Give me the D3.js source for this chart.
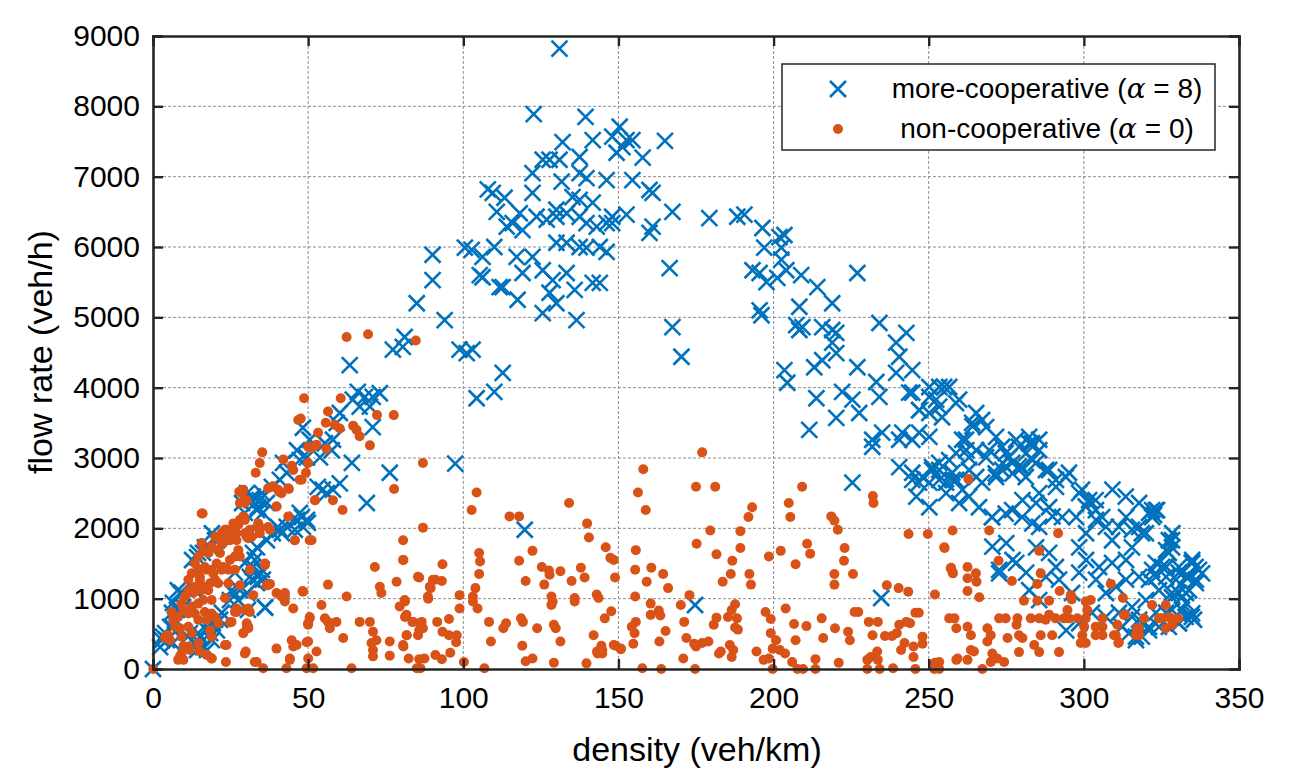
<!DOCTYPE html>
<html>
<head>
<meta charset="utf-8">
<style>
  body { margin: 0; background: #fff; }
  text { font-family: "Liberation Sans", Arial, sans-serif; fill: #000; }
</style>
</head>
<body>
<svg id="plot"></svg>
<script src="https://d3js.org/d3.v7.min.js"></script>
<script>

// density (veh/km), flow rate (veh/h)
var coopPoints = [
  [131,8820],[122.7,7890],[139.4,7850],[150.4,7710],[132,7490],[141.7,7520],[148,7570],[152.6,7520],[154.5,7520],[165,7510],
  [125.6,7240],[127.8,7240],[131,7240],[137.5,7280],[149.4,7340],[151.3,7420],[157.8,7270],
  [122.3,7050],[131.7,6930],[137.5,7050],[139.7,6980],[146.2,6950],[154.5,6950],[160,6810],
  [107.9,6820],[109.5,6770],[113.3,6700],[122.3,6770],[130,6530],[135.2,6710],[137.5,6670],[141.7,6630],[148,6430],[152.6,6460],[161,6770],[167.4,6500],[179.3,6410],[188.3,6430],
  [110.8,6500],[114,6290],[115.9,6340],[118.2,6480],[119.1,6240],[123.6,6430],[126.9,6390],[130,6430],[133.3,6480],[137.5,6430],[139.7,6340],[143,6290],[146.2,6340],[148,6340],[160,6200],[161,6290],
  [90.1,5890],[100.5,5990],[102.7,5960],[106.2,5860],[110,6000],[117.2,5860],[122.3,5860],[130,6060],[133.3,6060],[137.5,6000],[139.7,5990],[144,6000],[146.2,5930],
  [90.1,5530],[105.3,5600],[106.2,5570],[111.7,5430],[112.7,5430],[119.1,5630],[125.6,5670],[128.8,5530],[133.3,5630],[141.7,5490],[144,5490],[166.5,5700],
  [85,5200],[94,4960],[117.5,5250],[125.6,5060],[127.8,5350],[130,5200],[135.9,5390],[136.5,4960],
  [167.4,4860],[170.3,4440],
  [77.3,4540],[81.1,4720],[80.5,4580],[98.8,4540],[101.1,4490],[103,4540],[112.7,4210],[110,3940],[104.3,3850],[73.1,3920],
  [63.4,4320],[66,3940],[68.3,3870],[70.8,3870],[64.4,3830],[66.6,3730],[69.9,3730],[70.8,3440],
  [60.2,3640],[59.2,3500],[58,3260],
  [48.3,3430],[50.5,3260],[46.4,3110],[49.6,3010],[47.3,2970],
  [55.4,3210],[57.6,3110],[53.8,3010],[64.1,2930],[76.3,2790],[68.9,2360],
  [41.9,2930],[43.1,2790],[40.9,2690],
  [60.2,2640],[58,2550],[54.7,2550],[56,2500],
  [30.3,2500],[32.2,2450],[34.4,2400],[36.7,2360],[35.4,2220],[33.5,2260],
  [47.3,2220],[49.6,2120],[46.4,2120],[48.3,2020],
  [40.9,1980],[43.1,2020],[38.6,1930],
  [34.4,1930],[36.7,1830],[33.5,1730],[32.2,1650],
  [20.6,1830],[18.4,1730],[16.1,1650],[14.2,1590],
  [32.2,1450],[34.4,1370],[31.2,1310],[33.5,1220],[35.4,1270],
  [28,1120],[25.8,1080],[24.8,980],[30.3,1080],[36.1,870],
  [8.7,1080],[6.4,940],[7.7,840],[9.7,880],
  [21.6,700],[19.3,650],[17.4,550],[18.4,510],[20.6,550],
  [5.5,600],[3.2,460],[6.4,370],[2.3,310],[4.5,410],
  [11.9,510],[15.1,460],[16.1,310],[14.2,270],[17.4,270],
  [0,0],
  [2.9,410],[3.9,510],[6.1,600],[7.1,700],[6.1,800],[8,880],[9.3,1080],
  [11.3,460],[13.5,370],[14.5,510],[17.7,600],[20,700],[22.2,800],[19,410],
  [12.6,1550],[14.5,1650],[16.7,1730],[20,1830],[19,1930],[13.5,1120],[8,1120],
  [29.6,2220],[31.9,2400],[33.8,2300],[35.1,2500],[38.3,2590],[28.7,2360],
  [48,2160],[49.9,2080],[45.7,1980],[40.2,2020],[41.5,1930],[53.1,2590],
  [25.4,1120],[27.4,980],[30.6,840],[36.1,880],[31.9,1270],[33.8,1310],[26.4,1370],[29.6,1510],[32.8,1550],[35.1,1410],
  [97.4,2920],[119.8,1980],[174.7,910],[234.7,1010],
  [190.6,6460],[196.4,6270],[201.9,6140],[203.5,6170],[197,5990],[202.5,5990],[193.2,5670],[195.5,5630],[197.7,5500],[201.2,5560],[202.5,5820],[204.1,5670],[208.9,5600],[214.1,5430],[218.9,5200],[227,5630],[208.3,5150],[195.5,5100],[196.1,5030],
  [207.3,4890],[208.3,4820],[209.3,4860],[215.7,4860],[218.9,4820],[220.2,4780],[218.9,4640],[220.2,4490],[234.1,4920],[239.5,4640],[242.8,4780],[240.5,4440],[244.7,4250],[239.5,4210],
  [203.5,4250],[204.4,4070],[213.1,4290],[215.7,4390],[213.8,3850],[211.5,3400],[220.2,3570],[222.1,3940],[225.4,3830],[227.6,3640],[227,4290],[233.1,4080],[234.1,3870],[231.8,3260],[231.8,3160],[235,3360],
  [241.5,3360],[240.5,3260],[244.7,3260],[246.9,3360],[250.2,3300],[250.2,4010],[253.4,4010],[256.6,4010],[252.4,3830],[259.8,3830],[244.7,3930],[246.9,3680],
  [225.4,2650],
  [240.5,2870],[244.7,2790],[246.9,2650],[251.1,2870],[253.4,2690],[257.6,2790],
  [255,4010],[250.2,3870],[253.4,3730],[258.8,3780],[254.3,3580],[250.2,3640],[247,3680],[243.7,3930],
  [265.3,3640],[267.2,3540],[264,3500],[268.5,3440],[271.7,3300],[260.8,3260],[262.1,3110],[265.3,3110],[269.5,3110],[273.7,3160],[278.2,3260],[282.4,3300],[283.3,3210],[285.6,3110],[281.4,3070],[275.9,3010],[268.5,3010],[263,3010],
  [253.4,2930],[251.1,2830],[248,2730],[244.7,2690],[250.2,2650],[255.6,2650],[258.8,2690],[263,2830],[265.3,2730],[267.2,2650],[271.7,2730],[273.7,2830],[276.9,2930],[280.1,2870],[284.6,2930],[287.8,2830],[291,2690],[295.2,2790],[299.4,2550],[301.7,2400],[303.9,2260],[305.9,2160],
  [246,2450],[250.2,2300],[255.6,2500],[259.8,2360],[263,2450],[266.2,2300],[270.4,2160],[276.9,2260],[280.1,2160],[284.6,2360],[288.8,2300],[293,2160],[297.5,2160],
  [264.1,3450],[262,3260],[258.8,3070],[256.6,2970],[253.4,2830],[257.7,2690],[260.9,2550],[271.6,2780],[273.8,2930],[274.8,3070],[279.1,3160],[282.4,3210],[285.6,3260],[283.4,2970],[279.1,2880],[277,2780],[281.3,2730],[288.8,2830],[291,2590],[294.2,2730],[285.6,2500],[280.2,2400],[274.8,2210],[298.5,2500],[300.6,2310],[303.8,2400],[309.2,2550],[313.5,2450],[317.8,2360],[323.2,2260],[322,2160],[270.5,1740],[272.7,1360],[277,1550],[283.4,2070],[285.6,2020],[289.9,2170],
  [328.5,1930],[334.9,1550],[338.1,1360],[336,1450],[333.9,1310],[332.8,740],[334.9,790],
  [270.4,2160],[275,1790],[272.7,1410],[278.2,1510],[281.4,1370],[282.4,1120],[285.6,980],[284.6,1730],[288.8,1650],[291,1450],[287.8,1310],[292,1270],[296.2,1080],[298.5,1370],[300.7,1550],[298.5,1730],[300.7,1930],[303.9,2120],[307.1,2020],[309.1,1830],[311.3,2020],[313.6,2160],[317.8,2020],[322,2260],[320,1930],[315.5,1730],[313.6,1550],[309.1,1510],[304.9,1450],[303.9,1270],[307.1,1080],[310.4,1170],[313.6,1270],[317.8,1310],[322,1410],[326.5,1450],[328.4,1830],[327.4,1650],[330.6,1370],[334.8,1510],[336.1,1270],[332.9,1080],[328.4,1080],[324.2,1120],[320,980],[315.5,880],[311.3,800],[307.1,740],[302.6,800],[298.5,650],[294.3,550],[316.8,460],[321,600],[326.5,800],[330.6,650],[334.8,740],[317.8,700],[323.2,800],
  [321,2220],[323.6,2260],[322.6,2190],[315.5,1980],[318.7,1930],[327.4,1830],[328.4,1730],[326.5,1690],
  [323.2,1510],[325.2,1450],[330.6,1450],[334.9,1510],[337.1,1410],[332.9,1310],[329.7,1270],[326.5,1310],[323.2,1310],[321,1270],
  [336.1,1220],[333.9,1120],[330.6,1080],[328.4,1020],[332.9,940],[331.6,840],[328.4,840],[335.5,700],[330.6,650],[327.4,600],
  [324.2,600],[321,550],[318.7,460],[316.8,410],[314.6,510],[312.3,600],[315.5,740]
];

var nonPoints = [
  [62.4,4720],[69.3,4760],[84.7,4670],[48.7,3850],[60.5,3850],[46.8,3540],[47.6,3560],[56.4,3660],[55.7,3500],[58.6,3470],[60.2,3420],
  [64.5,3460],[65.6,3400],[66.6,3310],[77.6,3610],[72.2,3610],[69.9,3180],[53.2,3360],[50,3160],[52.7,3190],[51.1,3140],[55.9,3130],
  [35.2,3080],[34.4,2930],[33.1,2790],[42,2980],[44.7,2890],[45.2,2830],[50,2930],[49.3,2790],[47.9,2690],[87,2930],
  [27.8,2520],[29.1,2550],[37.1,2570],[38.7,2600],[40.7,2520],[43.8,2560],[39.8,2310],[52.2,2400],[58,2400],[61.1,2260],[77.7,2560],
  [15.7,2210],[28,2360],[30.2,2400],[45.7,1830],[50.5,1830],[87,2010],
  [80.6,1830],[80.6,1550],[71.5,1450],[73.1,1170],[73.6,1080],[78.5,1240],[85.4,1310],[90.2,1270],[89.2,1170],[88.6,1030],[81.1,980],[79.5,890],
  [81.7,770],[83.8,670],[86,650],[87,580],[85.4,480],[81.7,480],[80.6,340],[76.3,390],[76.3,190],[70.9,180],[70.9,270],[70.4,370],[72,410],[70.9,530],
  [69.9,670],[66.6,670],[61.3,440],[59.1,670],[56.4,670],[55.4,720],[57,580],[54.3,910],[62.4,1030],[56.4,1200],[48.2,1110],[42.5,1080],[41.4,1030],
  [42.5,960],[45.2,860],[50.5,720],[50,650],[49.5,380],[52.7,250],[50,150],[44.7,410],[45.2,320],[39.8,290],[44.1,150],[33.4,100],[35.5,10],
  [43,10],[49.5,10],[51.6,10],[64,10],[30.2,650],[30.7,580],[29.9,250],[23.7,340],[23.5,100],[24.8,660],[18.9,150],[15.1,250],[9.8,320],[8.7,180],
  [5.5,410],[4.4,480],[6,810],[6.5,700],[11.9,270],[0.1,0],[36.6,1190],[31.2,810],[26.9,810],[36.1,1480],[37.7,1210],[39.8,1080],
  [16,2210],[28,2520],[28.6,2500],[29.6,2360],[38.7,2590],[40.3,2550],[41.4,2500],[43.6,2570],[47.3,2690],[52.2,2400],[39.8,2310],[43.6,2170],
  [33.9,2070],[34.4,2020],[37.1,2020],[29.6,2120],[27.5,2050],[25.9,1980],[24.3,1900],[23.2,1830],[22.1,1790],[21,1690],[29.6,1930],[30.7,1860],
  [31.8,1880],[26.9,1830],[27.5,1690],[26.4,1600],[28,1600],
  [45.7,1830],[51.1,1830],[36.1,1500],[31.2,1410],[28,1190],[37.1,1190],[32.3,1050],[23.2,1010],[20,1270],[18.9,1410],[16.7,1450],[14.6,1410],
  [15.1,1270],[15.7,1120],[13.5,1170],[11.4,1120],[10.3,1030],[9.2,930],[9.8,840],[11.4,790],[12.5,890],[14.6,930],[16.2,980],[17.8,1120],
  [22.1,1410],[24.3,1410],[26.4,1410],[21,1220],[24.3,1220],[18.9,980],[16.7,810],[13.5,790],[14.6,700],[17.3,700],[8.1,740],[7.1,600],
  [8.7,580],[9.2,460],[11.4,600],[12.5,510],[14.6,370],[11.4,320],[9.2,220],[8.1,130],[9.8,130],[4.9,480],[3.9,440],[18.9,790],[20,740],
  [21,650],[18.4,550],[18.9,460],[17.3,200],[18.9,150],[23.2,340],[25.3,670],[26.4,810],[26.9,860],[29.6,840],[30.7,860],[29.1,510],[30.2,580],
  [30.7,600],[29.6,220],[32.8,100],[44.1,130],[46.3,340],[50,390],[50,630],[50.5,740],[48.4,1100],[41.4,1050],[42.5,1030],
  [22.1,1930],[23.2,1980],[20,1880],[18.9,1740],[17.8,1650],[15.7,1790],[16.2,1690],[14.6,1600],[13.5,1500],[12.5,1360],[11.4,1270],
  [23.7,1980],[25.9,2070],[28,2120],[29.1,2170],[31.2,1980],[30.2,1880],[26.9,1930],[24.8,1830],[22.6,1790],[21.6,1650],[20.5,1500],[17.3,1410],
  [15.1,1310],[14.1,1170],[13,1080],[16.2,1170],[18.4,1220],[19.4,1360],[22.6,1450],[24.8,1550],[33.9,2020],[34.4,1930],[37.7,1980],[31.2,1880],
  [104.3,2510],[102.7,2260],[134.1,2360],[114.9,2170],[118,2170],[139.9,2070],[140.5,1870],[122.3,1680],[118,1540],[120.1,1250],
  [125.3,1450],[127.6,1400],[127.8,1340],[131.3,1390],[126.1,1200],[134.9,1250],[137.9,1440],[139.1,1300],
  [145.9,1730],[147.4,1580],[148.5,1550],[148.9,1300],
  [143,1060],[143.6,1010],[135.9,1010],[135.9,960],[128.4,1030],[128.4,910],[128.8,960],
  [147.7,820],[145.6,720],[143.1,250],[144.5,330],[144.8,220],[149.1,330],[150.8,280],
  [142,480],[131.3,390],[129.2,630],[129.8,580],[123.8,580],[119.2,670],[118.6,720],[119,330],[120.1,110],[122.3,150],[129.2,90],
  [112.9,580],[113.8,650],[108.3,670],[108.9,390],[106.8,10],[100.2,100],
  [98.8,1050],[98.8,860],[103.1,1030],[103.1,960],[104.6,860],[103.9,1150],[105.1,1350],[105.4,1530],[105.1,1650],
  [93.3,1490],[93.1,1250],[91,1270],[89.5,1150],[88.7,1000],[85.8,1300],[80.7,1550],[91.6,670],[93.3,530],[95.4,710],[95.4,480],[97.9,480],
  [97.7,380],[95.8,230],[93.1,140],[91,200],[87.5,150],[85.8,140],[82.4,150],[80.7,320],[81.8,480],[83.6,670],[81.2,740],[81.2,960],[86.6,670],
  [85.8,550],[85,10],[86.2,10],
  [139.7,80],[143.3,220],[144.8,270],[148.5,340],[150.8,290],[154.8,360],[155.2,510],[154.3,600],[155.6,670],[155.4,1030],[155.4,1410],[155.6,1690],
  [158,2840],[156.3,2510],[158.8,2260],[160.6,1440],[159.1,1240],[160.4,930],[160.4,770],[163,830],[163.5,760],[164.4,1350],[166,1150],[165.2,540],
  [163.2,390],[157.7,10],[163.8,0],[170.9,150],[171.9,440],[171.2,670],[170.1,910],[172.9,1050],[175,2590],[181.2,2590],[177,3080],[175.2,1780],
  [179.6,1970],[181.6,1630],[186.7,1540],[189.3,1720],[189.3,1960],[192.2,1350],[192.7,1200],[193.1,2300],[191.9,2160],[183.6,1240],[186.2,1350],
  [187.6,920],[186.5,840],[185.3,740],[188.2,720],[187.6,590],[188.5,560],[181.6,730],[180.7,630],[185.9,340],[187,270],[186.5,170],[183,250],
  [182.4,220],[179,390],[177,370],[175,320],[174.4,360],[174.7,0],[194.5,250],[196.8,130],[198.5,150],[199.7,0],[197.4,810],[199.1,710],[199.1,510],
  [200.8,410],[199.7,290],[202,270],[203.7,220],[206,100],[207.7,0],[209.5,0],[213.5,0],[213.5,140],[207.1,410],[206.6,640],[203.9,860],[210.6,610],
  [215.5,720],[216,440],[219.8,580],[221,90],[224,530],[224.6,410],[226.1,810],[227.3,810],[230.7,670],[233.6,670],[231.9,480],[233.4,250],[233.6,130],
  [234.2,0],[230.2,0],[230.2,130],[231.3,170],[235.9,470],[238.5,10],[238.2,470],[239.7,510],[240.5,630],[241.1,270],[242.2,370],[242.8,670],[244,650],
  [245.7,800],[246.8,800],[245.1,320],[245.1,170],[245.7,0],[248,460],[248,360],[251.8,0],[252,90],[252,1060],[249.7,1920],[243.5,1920],
  [255.1,1720],[257.2,1440],[257.8,1360],[256.6,720],[258.3,720],[258.9,580],[258.9,130],[202.3,1680],[198.5,1600],[207.1,1490],[210.8,1780],
  [211.8,1640],[205.4,2160],[204.9,2360],[209.2,2590],[218.6,2170],[219.6,2110],[220.7,1980],[222.9,1720],[222.7,1540],[225.6,1350],[219.6,1350],
  [219.6,1200],[232,2460],[232.2,2360],[236.5,1190],[240.3,1150],[243.4,1100],
  [262.8,2700],[257.7,1970],[269.5,1970],[255,1730],[257.1,1430],[257.7,1380],[262.5,1450],[262.5,1290],[265.2,1360],[265.4,1240],[262.5,1110],
  [266.3,1020],[272.5,1540],[276.8,1250],
  [285.6,1680],[291.7,1930],[286.1,1360],[285,1210],[280.7,970],[285,970],[288.8,970],[292.2,1110],[295.8,1050],[296.1,990],[308.7,1210],[312.6,1010],
  [313.3,770],[322,910],[326.4,910],[319.4,720],[324.2,720],[327.4,740],[330.4,720],[328.5,630],[326.4,580],[317.8,580],[316.7,480],[310.8,630],
  [310.3,480],[311.1,370],[306,720],[306,600],[306,480],[303.8,600],[303.8,480],[300.6,370],[299,370],[299.5,480],[300.1,600],[300.6,720],[301.1,840],
  [302.2,980],[300.6,960],[297.9,720],[295.2,720],[294.7,840],[293.6,720],[290.9,720],[288.8,770],[287.7,700],[285.6,720],[282.9,720],[278.6,720],
  [278.3,630],[274.8,720],[272.7,720],[279.1,480],[280.2,440],[275.4,440],[270,480],[268.9,580],[268.9,390],[270.5,220],[272.1,150],[274.3,100],
  [263.6,270],[262.5,130],[264.6,250],[259.3,150],[262.5,600],[263.6,480],[279.1,240],[286.1,480],[289.8,480],[292,240],[285.6,240],[284,340],
  [267.3,0],[270,100],[253.4,100],[253.4,0],
  [312.9,770],[325.2,720],[328.1,720],[317.1,580],[309.7,480],[317.8,480],[311.3,380]
];

var xTicks = [0, 50, 100, 150, 200, 250, 300, 350];
var yTicks = [0, 1000, 2000, 3000, 4000, 5000, 6000, 7000, 8000, 9000];
var xLabel = "density (veh/km)";
var yLabel = "flow rate (veh/h)";
var seriesNames = [
  {name: "more-cooperative (", val: "8", kind: "cross"},
  {name: "non-cooperative (", val: "0", kind: "dot"}
];

var blue = "#0072BD";
var orange = "#D95319";

var screen = {width: 1307, height: 772};
var margins = {top: 36, bottom: 103, left: 153, right: 68};
var graph = {
  width: screen.width - margins.left - margins.right,
  height: screen.height - margins.top - margins.bottom
};

var svg = d3.select("#plot")
  .attr("width", screen.width)
  .attr("height", screen.height);

var xScale = d3.scaleLinear().domain([0, 350]).range([0, graph.width]);
var yScale = d3.scaleLinear().domain([0, 9000]).range([graph.height, 0]);

var g = svg.append("g")
  .attr("transform", "translate(" + margins.left + "," + margins.top + ")");

// grid
g.append("g").selectAll("line")
  .data(xTicks.slice(1, -1))
  .enter().append("line")
  .attr("x1", function(d) { return xScale(d); })
  .attr("x2", function(d) { return xScale(d); })
  .attr("y1", 0).attr("y2", graph.height)
  .attr("stroke", "#8c8c8c").attr("stroke-width", 1)
  .attr("stroke-dasharray", "3,2");

g.append("g").selectAll("line")
  .data(yTicks.slice(1, -1))
  .enter().append("line")
  .attr("y1", function(d) { return yScale(d); })
  .attr("y2", function(d) { return yScale(d); })
  .attr("x1", 0).attr("x2", graph.width)
  .attr("stroke", "#8c8c8c").attr("stroke-width", 1)
  .attr("stroke-dasharray", "3,2");

// markers
var cross = "M-8,-8L8,8M-8,8L8,-8";

g.append("g").selectAll("path")
  .data(coopPoints)
  .enter().append("path")
  .attr("d", cross)
  .attr("transform", function(d) {
    return "translate(" + xScale(d[0]) + "," + yScale(d[1]) + ")";
  })
  .attr("fill", "none")
  .attr("stroke", blue)
  .attr("stroke-width", 2.6);

g.append("g").selectAll("circle")
  .data(nonPoints)
  .enter().append("circle")
  .attr("cx", function(d) { return xScale(d[0]); })
  .attr("cy", function(d) { return yScale(d[1]); })
  .attr("r", 5)
  .attr("fill", orange);

// axes (inner ticks on all four sides, like a boxed matlab plot)
var tickLen = 10;
var xAxis = d3.axisBottom(xScale).tickValues(xTicks).tickSize(-tickLen).tickPadding(18).tickFormat(d3.format("d"));
var yAxis = d3.axisLeft(yScale).tickValues(yTicks).tickSize(-tickLen).tickPadding(13).tickFormat(d3.format("d"));
var xTop = d3.axisTop(xScale).tickValues(xTicks).tickSize(-tickLen).tickFormat("");
var yRight = d3.axisRight(yScale).tickValues(yTicks).tickSize(-tickLen).tickFormat("");

var xg = g.append("g")
  .attr("transform", "translate(0," + graph.height + ")")
  .call(xAxis);
var yg = g.append("g").call(yAxis);
var tg = g.append("g").call(xTop);
var rg = g.append("g")
  .attr("transform", "translate(" + graph.width + ",0)")
  .call(yRight);

[xg, yg, tg, rg].forEach(function(a) {
  a.select(".domain").attr("stroke", "#262626").attr("stroke-width", 2.6);
  a.selectAll(".tick line").attr("stroke", "#262626").attr("stroke-width", 2.4);
  a.selectAll(".tick text")
    .attr("font-family", "Liberation Sans, Arial, sans-serif")
    .attr("font-size", 30)
    .attr("fill", "#000");
});

// axis labels
svg.append("text")
  .attr("x", 697)
  .attr("y", 761)
  .attr("text-anchor", "middle")
  .attr("font-size", 34)
  .text(xLabel);

svg.append("g")
  .attr("transform", "translate(52,352)")
  .append("text")
  .attr("transform", "rotate(-90)")
  .attr("text-anchor", "middle")
  .attr("font-size", 34)
  .text(yLabel);

// legend
var legend = svg.append("g");
legend.append("rect")
  .attr("x", 782).attr("y", 64)
  .attr("width", 433).attr("height", 86)
  .attr("fill", "#fff")
  .attr("stroke", "#262626")
  .attr("stroke-width", 1.5);

var rows = legend.selectAll("g.row")
  .data(seriesNames)
  .enter().append("g")
  .attr("class", "row")
  .attr("transform", function(d, i) { return "translate(0," + (89 + i * 40) + ")"; });

rows.filter(function(d) { return d.kind == "cross"; })
  .append("path")
  .attr("d", cross)
  .attr("transform", "translate(838,0)")
  .attr("fill", "none")
  .attr("stroke", blue)
  .attr("stroke-width", 2.6);

rows.filter(function(d) { return d.kind == "dot"; })
  .append("circle")
  .attr("cx", 838).attr("cy", 0).attr("r", 5)
  .attr("fill", orange);

var lt = rows.append("text")
  .attr("x", 1047)
  .attr("y", 9)
  .attr("text-anchor", "middle")
  .attr("font-size", 28);
lt.append("tspan").text(function(d) { return d.name; });
lt.append("tspan")
  .attr("font-family", "DejaVu Serif, Liberation Serif, serif")
  .attr("font-style", "italic")
  .text("\u03B1");
lt.append("tspan").text(function(d) { return " = " + d.val + ")"; });

</script>
</body>
</html>
